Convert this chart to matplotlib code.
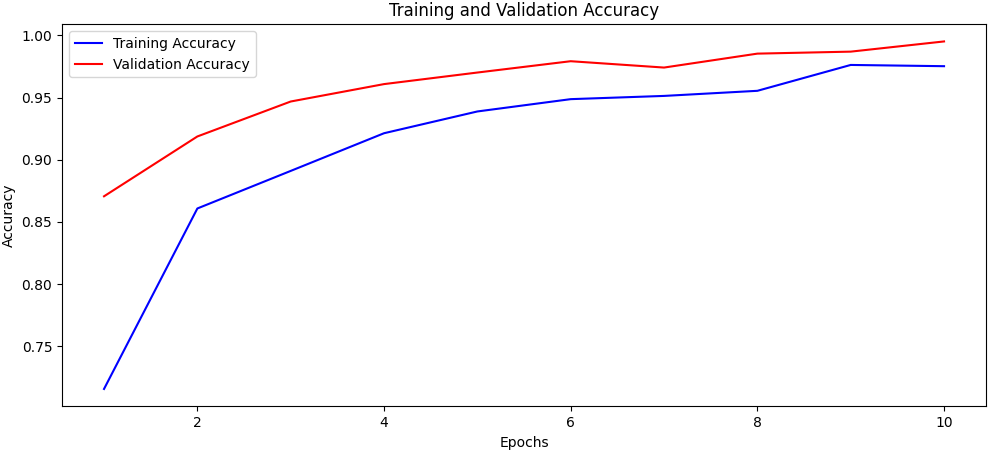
import matplotlib
matplotlib.use("Agg")
import matplotlib.pyplot as plt

epochs = [1, 2, 3, 4, 5, 6, 7, 8, 9, 10]
train_acc = [0.7157, 0.8608, 0.8910, 0.9213, 0.9388, 0.9487, 0.9513, 0.9554, 0.9762, 0.9752]
val_acc = [0.8706, 0.9187, 0.9468, 0.9608, 0.9701, 0.9792, 0.9741, 0.9853, 0.9869, 0.9951]

fig = plt.figure(figsize=(9.94, 4.54), dpi=100)
ax = fig.add_axes([0.0624, 0.105, 0.9296, 0.842])
ax.plot(epochs, train_acc, color='blue', label='Training Accuracy')
ax.plot(epochs, val_acc, color='red', label='Validation Accuracy')
ax.set_title('Training and Validation Accuracy')
ax.set_xlabel('Epochs')
ax.set_ylabel('Accuracy')
ax.legend(loc='upper left')
fig.savefig('out.png', dpi=100)
